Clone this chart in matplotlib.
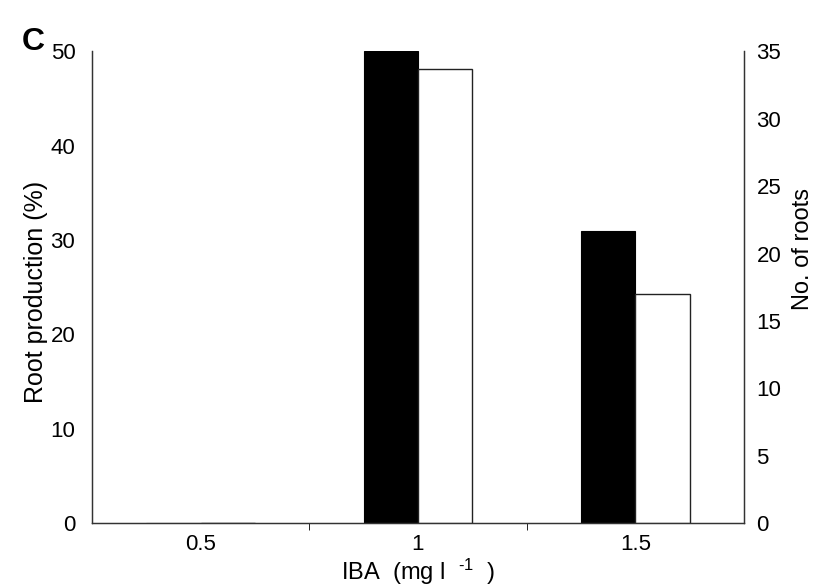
from matplotlib import pyplot as plt
import matplotlib
import numpy as np

matplotlib.rcParams['font.family'] = ['Liberation Sans', 'DejaVu Sans']
matplotlib.rcParams['font.size'] = 15
matplotlib.rcParams['mathtext.fontset'] = 'custom'
matplotlib.rcParams['mathtext.rm'] = 'Liberation Sans'
matplotlib.rcParams['mathtext.it'] = 'Liberation Sans'

# data
iba_levels = ['0.5', '1', '1.5']
root_pct = [0, 50, 31]        # black bars, left axis
n_roots = [0, 33.7, 17]       # white bars, right axis

fig = plt.figure(figsize=(8.18, 5.88), dpi=100)
ax = fig.add_axes([0.1125, 0.11, 0.797, 0.803])
ax2 = ax.twinx()

x = np.arange(len(iba_levels))
w = 0.25
ax.bar(x - w / 2, root_pct, w, color='black', edgecolor='black', linewidth=0.8)
ax2.bar(x + w / 2, n_roots, w, color='white', edgecolor='#222222', linewidth=1.0)

ax.set_xlim(-0.5, len(iba_levels) - 0.5)
ax.set_ylim(0, 50)
ax2.set_ylim(0, 35)
ax.set_yticks(range(0, 51, 10))
ax2.set_yticks(range(0, 36, 5))

ax.set_xticks(x)
ax.set_xticklabels(iba_levels)
ax.tick_params(axis='x', which='major', length=0, pad=8, labelsize=16)
ax.set_xticks([0.5, 1.5], minor=True)
ax.tick_params(axis='x', which='minor', length=5, direction='out')
ax.tick_params(axis='y', length=0, pad=12, labelsize=16)
ax2.tick_params(axis='y', length=0, pad=9, labelsize=16)

for a in (ax, ax2):
    a.spines['top'].set_visible(False)
    for s in ('left', 'right', 'bottom'):
        a.spines[s].set_linewidth(0.9)
        a.spines[s].set_color('#333333')

ax.set_xlabel('IBA  (mg l  $^{\\text{-1}}$  )', fontsize=17, labelpad=1)
ax.set_ylabel('Root production (%)', fontsize=18)
ax.yaxis.set_label_coords(-0.068, 0.49)
ax2.set_ylabel('No. of roots', fontsize=17)
ax2.yaxis.set_label_coords(1.073, 0.58)

fig.text(0.027, 0.915, 'C', fontsize=23, fontweight='bold')

plt.savefig('out.png', dpi=100)
